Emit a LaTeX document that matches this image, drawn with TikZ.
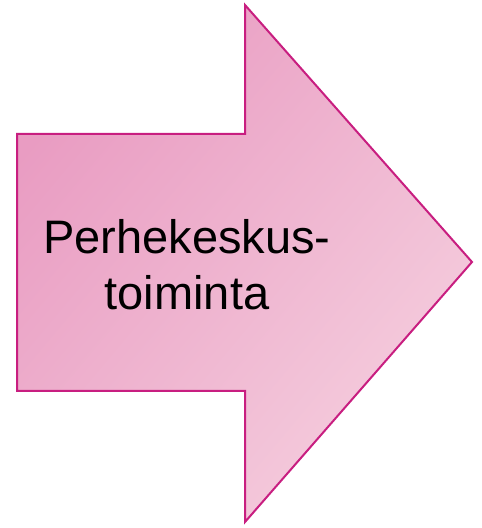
\documentclass[tikz,border=0pt]{standalone}
\usepackage{fontspec}
\setmainfont{Liberation Sans}
\usetikzlibrary{positioning}
\definecolor{arrowfilltop}{RGB}{233, 156, 194}
\definecolor{arrowfillbottom}{RGB}{245, 206, 222}
\definecolor{arrowline}{RGB}{200, 30, 128}
\tikzset{
arrowshape/.style={
  draw=arrowline,
  line width=2pt,
  line join=miter,
  left color=arrowfilltop,
  right color=arrowfillbottom,
  shading angle=50
},
arrowtext/.style={
  align=center,
  font=\fontsize{47}{56}\selectfont,
  text=black
}
}
\begin{document}
\begin{tikzpicture}[x=1pt,y=1pt]
  \useasboundingbox (0,0) rectangle (482,528);
  % outline of the big arrow
  \coordinate (bodyNW) at (17,394);
  \coordinate (bodyNE) at (245,394);
  \coordinate (headN) at (245,523);
  \coordinate (tip) at (472,266);
  \coordinate (headS) at (245,6);
  \coordinate (bodySE) at (245,137);
  \coordinate (bodySW) at (17,137);
  \path[arrowshape] (bodyNW) -- (bodyNE) -- (headN) -- (tip) -- (headS)
    -- (bodySE) -- (bodySW) -- cycle;
  \node[arrowtext] (label) at (187,263) {Perhekeskus-\\toiminta};
\end{tikzpicture}
\end{document}
